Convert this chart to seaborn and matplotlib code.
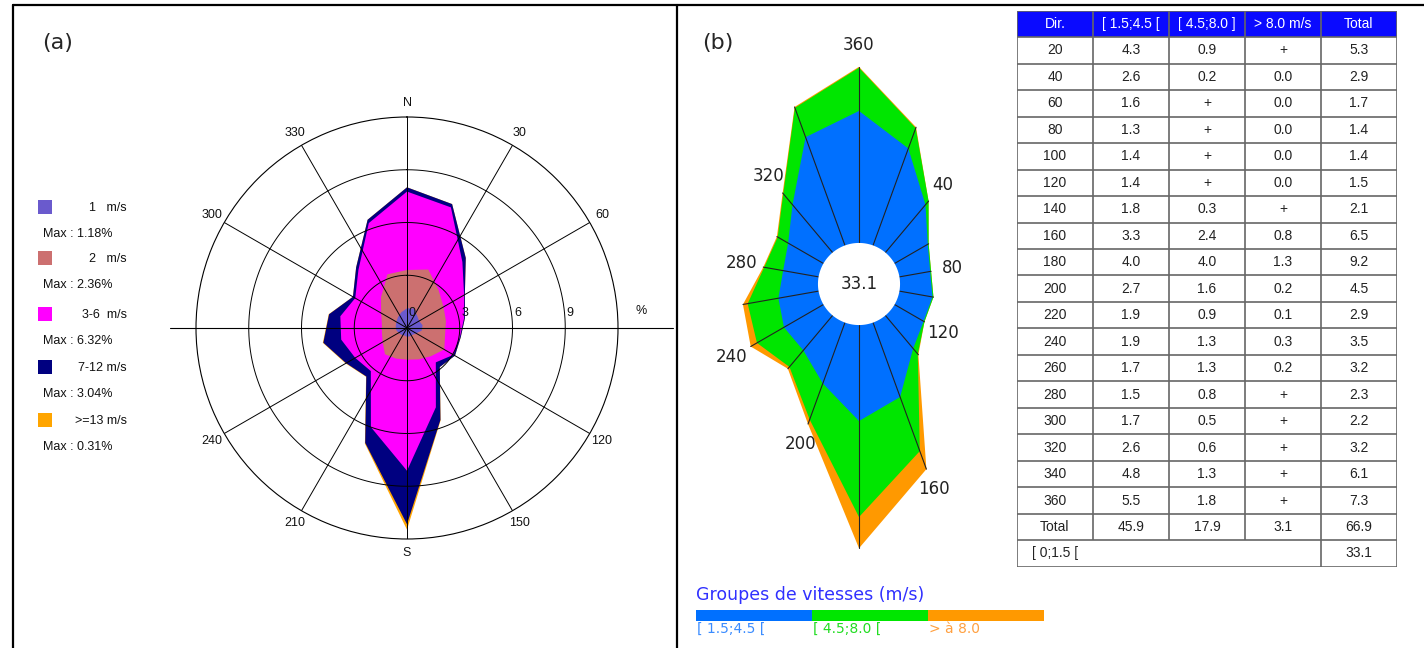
import numpy as np
import matplotlib
matplotlib.use("Agg")
import matplotlib.pyplot as plt
import seaborn as sns

sns.set_theme(style="white")
plt.rcParams['font.family'] = ['Liberation Sans', 'DejaVu Sans']

# ---------------- Panel (a) data : wind rose, % per direction and class ----
dirs_a = [0, 20, 40, 60, 80, 100, 120, 140, 160, 180, 200, 220, 240, 260, 280, 300, 320, 340]
cls_1 = [1.12, 1.18, 0.90, 0.80, 0.90, 0.85, 0.60, 0.50, 0.50, 0.50, 0.45, 0.50, 0.55, 0.63, 0.65, 0.70, 0.80, 0.95]
cls_2 = [2.18, 2.36, 1.90, 1.60, 1.35, 1.35, 1.85, 1.60, 1.40, 1.30, 1.40, 1.45, 1.05, 0.82, 0.80, 1.00, 1.50, 2.30]
cls_3 = [4.46, 3.76, 2.10, 1.35, 1.05, 0.85, 0.60, 0.45, 2.90, 6.32, 4.15, 1.25, 1.80, 2.35, 2.40, 1.70, 2.00, 3.10]
cls_4 = [0.24, 0.20, 0.30, 0.05, 0.05, 0.05, 0.10, 0.35, 0.76, 3.04, 0.95, 0.40, 0.60, 1.03, 0.65, 0.15, 0.20, 0.20]
cls_5 = [0.00, 0.00, 0.00, 0.00, 0.00, 0.00, 0.00, 0.00, 0.03, 0.31, 0.05, 0.02, 0.03, 0.03, 0.02, 0.00, 0.00, 0.00]
names_a = ["1   m/s", "2   m/s", "3-6  m/s", "7-12 m/s", ">=13 m/s"]
max_a = ["1.18", "2.36", "6.32", "3.04", "0.31"]
colors_a = ["#6a5acd", "#cc7070", "#ff00ff", "#000080", "#ffa500"]
rings_a = [3, 6, 9]
rmax_a = 12
spoke_labels_a = {0: "N", 30: "30", 60: "60", 120: "120", 150: "150", 180: "S",
                  210: "210", 240: "240", 300: "300", 330: "330"}

# ---------------- Panel (b) data : table values ------------------------------
TR = 0.04  # "+" = trace
dirs_b = [20, 40, 60, 80, 100, 120, 140, 160, 180, 200, 220, 240, 260, 280, 300, 320, 340, 360]
low_b = [4.3, 2.6, 1.6, 1.3, 1.4, 1.4, 1.8, 3.3, 4.0, 2.7, 1.9, 1.9, 1.7, 1.5, 1.7, 2.6, 4.8, 5.5]
mid_b = [0.9, 0.2, TR, TR, TR, TR, 0.3, 2.4, 4.0, 1.6, 0.9, 1.3, 1.3, 0.8, 0.5, 0.6, 1.3, 1.8]
high_b = [TR, 0.0, 0.0, 0.0, 0.0, 0.0, TR, 0.8, 1.3, 0.2, 0.1, 0.3, 0.2, TR, TR, TR, TR, TR]
total_b = [5.3, 2.9, 1.7, 1.4, 1.4, 1.5, 2.1, 6.5, 9.2, 4.5, 2.9, 3.5, 3.2, 2.3, 2.2, 3.2, 6.1, 7.3]
col_totals = [45.9, 17.9, 3.1, 66.9]
calm_b = 33.1
headers_b = ["Dir.", "[ 1.5;4.5 [", "[ 4.5;8.0 ]", "> 8.0 m/s", "Total"]
groups_b = ["[ 1.5;4.5 [", "[ 4.5;8.0 [", "> à 8.0"]
colors_b = ["#0070ff", "#00e600", "#ff9900"]
text_colors_b = ["#3a8cff", "#22dd22", "#ffa040"]
label_dirs_b = [360, 40, 80, 120, 160, 200, 240, 280, 320]
hole_b = 1.71

W, H = 1424, 648
fig = plt.figure(figsize=(W / 100, H / 100), dpi=100)
fig.patch.set_facecolor("white")

def box(x0, y0, x1, y1):
    return [x0 / W, 1 - y1 / H, (x1 - x0) / W, (y1 - y0) / H]

# overlay for frame, legend (a)
axo = fig.add_axes([0, 0, 1, 1])
axo.set_xlim(0, W); axo.set_ylim(H, 0); axo.axis("off")
axo.plot([13, 13], [5, H], color="black", lw=1.6)
axo.plot([13, W], [5, 5], color="black", lw=1.6)
axo.plot([677, 677], [5, H], color="black", lw=1.6)
axo.text(42, 43, "(a)", fontsize=16, family="DejaVu Sans", va="center", ha="left")
axo.text(702, 43, "(b)", fontsize=16, family="DejaVu Sans", va="center", ha="left")
for i, (nm, mx, c) in enumerate(zip(names_a, max_a, colors_a)):
    yy = [207, 258, 314, 367, 420][i]
    axo.scatter([45], [yy], marker="s", s=88, color=c, linewidths=0)
    axo.text(127, yy + 1, nm, ha="right", va="center", fontsize=9, color="#111")
    axo.text(43, yy + 27, "Max : " + mx + "%", ha="left", va="center", fontsize=9, color="#111")

# ---------------- Panel (a) polar ----------------
cx, cy, ra = 407, 328, 211
axa = fig.add_axes(box(cx - ra, cy - ra, cx + ra, cy + ra), projection="polar")
axa.set_theta_zero_location("N"); axa.set_theta_direction(-1)
axa.set_ylim(0, rmax_a)
axa.grid(False); axa.set_xticks([]); axa.set_yticks([])
axa.patch.set_alpha(0)
axa.spines["polar"].set_color("black"); axa.spines["polar"].set_linewidth(0.8)

stack = np.cumsum(np.array([cls_1, cls_2, cls_3, cls_4, cls_5]), axis=0)
th_a = np.deg2rad(np.r_[dirs_a, dirs_a[0]])
for i in range(4, -1, -1):
    axa.fill(th_a, np.r_[stack[i], stack[i][0]], color=colors_a[i], lw=0, zorder=1 + (4 - i) * 0.1)

tt = np.linspace(0, 2 * np.pi, 400)
for r in rings_a:
    axa.plot(tt, np.full_like(tt, r), color="black", lw=0.7, zorder=3)
for ang in range(0, 360, 30):
    rr = rmax_a
    axa.plot([0, np.deg2rad(ang)], [0, rr], color="black", lw=0.7, zorder=3)
axa.plot([0, np.pi / 2], [0, 15.1], color="black", lw=0.8, zorder=3, clip_on=False)
axa.plot([0, 3 * np.pi / 2], [0, 13.5], color="black", lw=0.8, zorder=3, clip_on=False)
for ang, lab in spoke_labels_a.items():
    axa.text(np.deg2rad(ang), 12.8, lab, ha="center", va="center", fontsize=9, color="#111")
for r in [0] + rings_a:
    axa.annotate(str(r), xy=(np.pi / 2, r), xytext=(1, 10.5), textcoords="offset points",
                 ha="left", va="center", fontsize=9, color="#111", zorder=4)
axa.annotate("%", xy=(np.pi / 2, 13.3), xytext=(0, 12), textcoords="offset points",
             ha="center", va="center", fontsize=9, color="#111", annotation_clip=False)

# ---------------- Panel (b) polar ----------------
bx, by = 859, 284
rmax_b = 11.5
rb = rmax_b * 24
axb = fig.add_axes(box(bx - rb, by - rb, bx + rb, by + rb), projection="polar")
axb.set_theta_zero_location("N"); axb.set_theta_direction(-1)
axb.set_ylim(0, rmax_b)
axb.grid(False); axb.set_xticks([]); axb.set_yticks([])
axb.patch.set_alpha(0)
axb.spines["polar"].set_visible(False)

cum_b = np.cumsum(np.array([low_b, mid_b, high_b]), axis=0)
th_b = np.deg2rad(np.r_[dirs_b, dirs_b[0]])
for i in range(2, -1, -1):
    axb.fill(th_b, hole_b + np.r_[cum_b[i], cum_b[i][0]], color=colors_b[i], lw=0, zorder=1 + (2 - i) * 0.1)
for d, tot in zip(dirs_b, cum_b[2]):
    axb.plot([np.deg2rad(d)] * 2, [hole_b, hole_b + tot], color="#222", lw=0.8, zorder=2)
axb.fill(tt, np.full_like(tt, hole_b), color="white", lw=0, zorder=3)
axb.text(0, 0, f"{calm_b:.1f}", ha="center", va="center", fontsize=12, family="DejaVu Sans",
         color="#222", zorder=4)
for d in label_dirs_b:
    k = dirs_b.index(d)
    axb.text(np.deg2rad(d), hole_b + cum_b[2][k] + 0.9, str(d), ha="center", va="center",
             fontsize=12, family="DejaVu Sans", color="#222")

# legend (b)
axl = fig.add_axes(box(696, 610, 1044, 621))
axl.barh([0, 0, 0], [1, 1, 1], left=[0, 1, 2], height=1, color=colors_b, lw=0)
axl.set_xlim(0, 3); axl.set_ylim(-0.5, 0.5); axl.axis("off")
axl.text(0, 1.9, "Groupes de vitesses (m/s)", color="#3030ff", fontsize=12.5,
         family="DejaVu Sans", ha="left", va="center")
for i, (g, c) in enumerate(zip(groups_b, text_colors_b)):
    axl.text(i + 0.005, -1.2, g, color=c, fontsize=10, family="DejaVu Sans", ha="left", va="center")

# ---------------- Table ----------------
axt = fig.add_axes(box(1017, 10.7, 1397, 566.7))
axt.set_xlim(0, 5); axt.set_ylim(21, 0); axt.axis("off")
axt.fill_between([0, 5], [0, 0], [1, 1], color="#0a0aff", lw=0)
lc = "#666"
axt.hlines(range(0, 22), 0, 5, colors=lc, lw=1.2)
axt.vlines([0, 4, 5], 0, 21, colors=lc, lw=1.2)
axt.vlines([1, 2, 3], 0, 20, colors=lc, lw=1.2)

def fmt(v):
    return "+" if 0 < v < 0.05 else f"{v:.1f}"

for j, h in enumerate(headers_b):
    axt.text(j + 0.5, 0.5, h, color="white", ha="center", va="center", fontsize=10)
for i, d in enumerate(dirs_b):
    row = [str(d), fmt(low_b[i]), fmt(mid_b[i]), fmt(high_b[i]), f"{total_b[i]:.1f}"]
    for j, s in enumerate(row):
        axt.text(j + 0.5, i + 1.5, s, ha="center", va="center", fontsize=10, color="#222")
for j, s in enumerate(["Total"] + [f"{v:.1f}" for v in col_totals]):
    axt.text(j + 0.5, 19.5, s, ha="center", va="center", fontsize=10, color="#222")
axt.text(0.2, 20.5, "[ 0;1.5 [", ha="left", va="center", fontsize=10, color="#222")
axt.text(4.5, 20.5, f"{calm_b:.1f}", ha="center", va="center", fontsize=10, color="#222")

fig.savefig("out.png", dpi=100)
